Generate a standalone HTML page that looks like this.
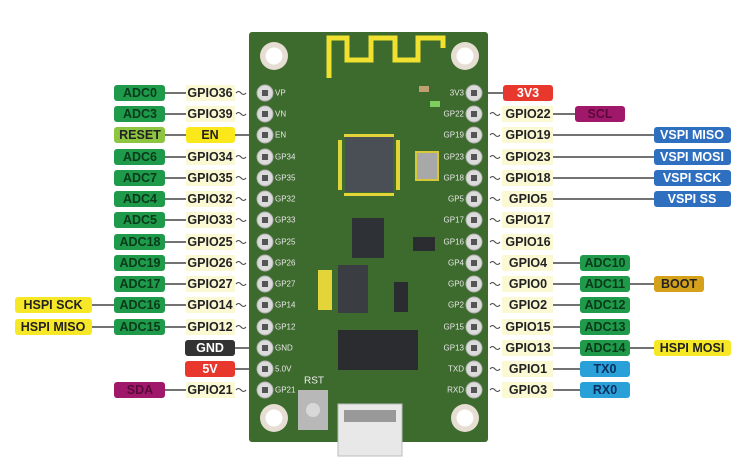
<!DOCTYPE html>
<html><head><meta charset="utf-8"><style>
html,body{margin:0;padding:0;background:#fff;width:744px;height:465px;overflow:hidden}
svg text{font-family:"Liberation Sans",sans-serif;font-weight:bold;font-size:12.5px;dominant-baseline:central;text-anchor:middle}
svg text.sl{font-size:8px;font-weight:normal;text-anchor:start;fill:#e8e8e8}
svg text.sr{font-size:8px;font-weight:normal;text-anchor:end;fill:#e8e8e8}
svg text.rst{font-size:10px;font-weight:normal;fill:#eee}
</style></head><body>
<svg width="744" height="465" viewBox="0 0 744 465" xmlns="http://www.w3.org/2000/svg">
<defs>
<g id="pin"><circle r="8" fill="#dcdcdc" stroke="#b0b0b0"/><rect x="-3" y="-3" width="6" height="6" fill="#555"/></g>
<g id="hole"><circle r="14" fill="#e6ddd3"/><circle r="8.5" fill="#fff"/></g>
</defs>
<rect x="249" y="32" width="239" height="410" rx="3" fill="#3d6a2d"/>
<path d="M329 78 V38 H347 V60 H371 V38 H395 V60 H418 V38 H443 V48" fill="none" stroke="#f0e030" stroke-width="5"/>
<use href="#hole" x="274" y="56"/><use href="#hole" x="465" y="56"/>
<use href="#hole" x="274" y="418"/><use href="#hole" x="465" y="418"/>
<rect x="345" y="137" width="48" height="55" fill="#4a4e55"/>
<rect x="344" y="134" width="50" height="3" fill="#e3d43a"/><rect x="344" y="193" width="50" height="3" fill="#e3d43a"/>
<rect x="338" y="140" width="4" height="50" fill="#e3d43a"/><rect x="396" y="140" width="4" height="50" fill="#e3d43a"/>
<rect x="416" y="152" width="22" height="28" fill="#a8a8a8" stroke="#d8c838" stroke-width="2"/>
<rect x="352" y="218" width="32" height="40" fill="#2e3136"/>
<rect x="338" y="265" width="30" height="48" fill="#3a3d42"/>
<rect x="338" y="330" width="80" height="40" fill="#2a2c30"/>
<rect x="394" y="282" width="14" height="30" fill="#2a2c30"/>
<rect x="413" y="237" width="22" height="14" fill="#2a2c30"/>
<rect x="318" y="270" width="14" height="40" fill="#e3d43a"/>
<rect x="419" y="86" width="10" height="6" fill="#c0a070"/><rect x="430" y="101" width="10" height="6" fill="#7fcf5f"/>
<text x="314" y="381" class="rst" style="text-anchor:middle">RST</text>
<rect x="298" y="390" width="30" height="40" fill="#b8b8b8"/><circle cx="313" cy="410" r="7" fill="#d8d8d8"/>
<rect x="338" y="404" width="64" height="52" fill="#e8e8e8" stroke="#bbb"/>
<rect x="344" y="410" width="52" height="12" fill="#999"/>
<text class="sl" x="275" y="93">VP</text><text class="sl" x="275" y="114">VN</text><text class="sl" x="275" y="135">EN</text>
<text class="sl" x="275" y="157">GP34</text><text class="sl" x="275" y="178">GP35</text><text class="sl" x="275" y="199">GP32</text>
<text class="sl" x="275" y="220">GP33</text><text class="sl" x="275" y="242">GP25</text><text class="sl" x="275" y="263">GP26</text>
<text class="sl" x="275" y="284">GP27</text><text class="sl" x="275" y="305">GP14</text><text class="sl" x="275" y="327">GP12</text>
<text class="sl" x="275" y="348">GND</text><text class="sl" x="275" y="369">5.0V</text><text class="sl" x="275" y="390">GP21</text>
<text class="sr" x="464" y="93">3V3</text><text class="sr" x="464" y="114">GP22</text><text class="sr" x="464" y="135">GP19</text>
<text class="sr" x="464" y="157">GP23</text><text class="sr" x="464" y="178">GP18</text><text class="sr" x="464" y="199">GP5</text>
<text class="sr" x="464" y="220">GP17</text><text class="sr" x="464" y="242">GP16</text><text class="sr" x="464" y="263">GP4</text>
<text class="sr" x="464" y="284">GP0</text><text class="sr" x="464" y="305">GP2</text><text class="sr" x="464" y="327">GP15</text>
<text class="sr" x="464" y="348">GP13</text><text class="sr" x="464" y="369">TXD</text><text class="sr" x="464" y="390">RXD</text>
<use href="#pin" x="265" y="93"/><use href="#pin" x="265" y="114"/><use href="#pin" x="265" y="135"/><use href="#pin" x="265" y="157"/><use href="#pin" x="265" y="178"/><use href="#pin" x="265" y="199"/><use href="#pin" x="265" y="220"/><use href="#pin" x="265" y="242"/><use href="#pin" x="265" y="263"/><use href="#pin" x="265" y="284"/><use href="#pin" x="265" y="305"/><use href="#pin" x="265" y="327"/><use href="#pin" x="265" y="348"/><use href="#pin" x="265" y="369"/><use href="#pin" x="265" y="390"/>
<use href="#pin" x="474" y="93"/><use href="#pin" x="474" y="114"/><use href="#pin" x="474" y="135"/><use href="#pin" x="474" y="157"/><use href="#pin" x="474" y="178"/><use href="#pin" x="474" y="199"/><use href="#pin" x="474" y="220"/><use href="#pin" x="474" y="242"/><use href="#pin" x="474" y="263"/><use href="#pin" x="474" y="284"/><use href="#pin" x="474" y="305"/><use href="#pin" x="474" y="327"/><use href="#pin" x="474" y="348"/><use href="#pin" x="474" y="369"/><use href="#pin" x="474" y="390"/>
<g stroke="#444" stroke-width="1.5">
<line x1="165" y1="93" x2="186" y2="93"/><line x1="165" y1="114" x2="186" y2="114"/><line x1="165" y1="135" x2="186" y2="135"/><line x1="235" y1="135" x2="249" y2="135"/>
<line x1="165" y1="157" x2="186" y2="157"/><line x1="165" y1="178" x2="186" y2="178"/><line x1="165" y1="199" x2="186" y2="199"/><line x1="165" y1="220" x2="186" y2="220"/><line x1="165" y1="242" x2="186" y2="242"/><line x1="165" y1="263" x2="186" y2="263"/><line x1="165" y1="284" x2="186" y2="284"/>
<line x1="92" y1="305" x2="186" y2="305"/><line x1="92" y1="327" x2="186" y2="327"/>
<line x1="235" y1="348" x2="249" y2="348"/><line x1="235" y1="369" x2="249" y2="369"/><line x1="165" y1="390" x2="186" y2="390"/>
<line x1="488" y1="93" x2="503" y2="93"/>
<line x1="553" y1="114" x2="575" y2="114"/>
<line x1="553" y1="135" x2="654" y2="135"/><line x1="553" y1="157" x2="654" y2="157"/><line x1="553" y1="178" x2="654" y2="178"/><line x1="553" y1="199" x2="654" y2="199"/>
<line x1="553" y1="263" x2="580" y2="263"/><line x1="553" y1="284" x2="654" y2="284"/><line x1="553" y1="305" x2="580" y2="305"/><line x1="553" y1="327" x2="580" y2="327"/><line x1="553" y1="348" x2="654" y2="348"/><line x1="553" y1="369" x2="580" y2="369"/><line x1="553" y1="390" x2="580" y2="390"/>
</g>
<g fill="none" stroke="#444" stroke-width="1">
<path d="M236 93 q2.5 -3 5 0 t5 0 M236 114 q2.5 -3 5 0 t5 0 M236 157 q2.5 -3 5 0 t5 0 M236 178 q2.5 -3 5 0 t5 0 M236 199 q2.5 -3 5 0 t5 0 M236 220 q2.5 -3 5 0 t5 0 M236 242 q2.5 -3 5 0 t5 0 M236 263 q2.5 -3 5 0 t5 0 M236 284 q2.5 -3 5 0 t5 0 M236 305 q2.5 -3 5 0 t5 0 M236 327 q2.5 -3 5 0 t5 0 M236 390 q2.5 -3 5 0 t5 0"/>
<path d="M490 114 q2.5 -3 5 0 t5 0 M490 135 q2.5 -3 5 0 t5 0 M490 157 q2.5 -3 5 0 t5 0 M490 178 q2.5 -3 5 0 t5 0 M490 199 q2.5 -3 5 0 t5 0 M490 220 q2.5 -3 5 0 t5 0 M490 242 q2.5 -3 5 0 t5 0 M490 263 q2.5 -3 5 0 t5 0 M490 284 q2.5 -3 5 0 t5 0 M490 305 q2.5 -3 5 0 t5 0 M490 327 q2.5 -3 5 0 t5 0 M490 348 q2.5 -3 5 0 t5 0 M490 369 q2.5 -3 5 0 t5 0 M490 390 q2.5 -3 5 0 t5 0"/>
</g>
<g fill="#1e9a4a"><rect x="114" y="85" width="51" height="16" rx="3"/><rect x="114" y="106" width="51" height="16" rx="3"/><rect x="114" y="149" width="51" height="16" rx="3"/><rect x="114" y="170" width="51" height="16" rx="3"/><rect x="114" y="191" width="51" height="16" rx="3"/><rect x="114" y="212" width="51" height="16" rx="3"/><rect x="114" y="234" width="51" height="16" rx="3"/><rect x="114" y="255" width="51" height="16" rx="3"/><rect x="114" y="276" width="51" height="16" rx="3"/><rect x="114" y="297" width="51" height="16" rx="3"/><rect x="114" y="319" width="51" height="16" rx="3"/></g>
<rect x="114" y="127" width="51" height="16" rx="3" fill="#8dc540"/>
<rect x="114" y="382" width="51" height="16" rx="3" fill="#a0186a"/>
<rect x="15" y="297" width="77" height="16" rx="3" fill="#f7e827"/><rect x="15" y="319" width="77" height="16" rx="3" fill="#f7e827"/>
<g fill="#fbf8d4"><rect x="186" y="85" width="49" height="16"/><rect x="186" y="106" width="49" height="16"/><rect x="186" y="149" width="49" height="16"/><rect x="186" y="170" width="49" height="16"/><rect x="186" y="191" width="49" height="16"/><rect x="186" y="212" width="49" height="16"/><rect x="186" y="234" width="49" height="16"/><rect x="186" y="255" width="49" height="16"/><rect x="186" y="276" width="49" height="16"/><rect x="186" y="297" width="49" height="16"/><rect x="186" y="319" width="49" height="16"/><rect x="186" y="382" width="49" height="16"/></g>
<rect x="186" y="127" width="49" height="16" rx="3" fill="#fbe81a"/>
<rect x="185" y="340" width="50" height="16" rx="3" fill="#333"/>
<rect x="185" y="361" width="50" height="16" rx="3" fill="#e8382e"/>
<g fill="#0a3a1a">
<text x="140" y="93">ADC0</text><text x="140" y="114">ADC3</text><text x="140" y="157">ADC6</text><text x="140" y="178">ADC7</text><text x="140" y="199">ADC4</text><text x="140" y="220">ADC5</text><text x="140" y="242">ADC18</text><text x="140" y="263">ADC19</text><text x="140" y="284">ADC17</text><text x="140" y="305">ADC16</text><text x="140" y="327">ADC15</text>
</g>
<text x="140" y="135" fill="#222">RESET</text>
<text x="140" y="390" fill="#5a0a3a">SDA</text>
<text x="53" y="305" fill="#222">HSPI SCK</text><text x="53" y="327" fill="#222">HSPI MISO</text>
<g fill="#222">
<text x="210" y="93">GPIO36</text><text x="210" y="114">GPIO39</text><text x="210" y="135">EN</text><text x="210" y="157">GPIO34</text><text x="210" y="178">GPIO35</text><text x="210" y="199">GPIO32</text><text x="210" y="220">GPIO33</text><text x="210" y="242">GPIO25</text><text x="210" y="263">GPIO26</text><text x="210" y="284">GPIO27</text><text x="210" y="305">GPIO14</text><text x="210" y="327">GPIO12</text><text x="210" y="390">GPIO21</text>
</g>
<text x="210" y="348" fill="#fff">GND</text><text x="210" y="369" fill="#fff">5V</text>
<rect x="503" y="85" width="50" height="16" rx="3" fill="#e8382e"/>
<rect x="575" y="106" width="50" height="16" rx="3" fill="#a0186a"/>
<g fill="#fbf8d4"><rect x="502" y="106" width="51" height="16"/><rect x="502" y="127" width="51" height="16"/><rect x="502" y="149" width="51" height="16"/><rect x="502" y="170" width="51" height="16"/><rect x="502" y="191" width="51" height="16"/><rect x="502" y="212" width="51" height="16"/><rect x="502" y="234" width="51" height="16"/><rect x="502" y="255" width="51" height="16"/><rect x="502" y="276" width="51" height="16"/><rect x="502" y="297" width="51" height="16"/><rect x="502" y="319" width="51" height="16"/><rect x="502" y="340" width="51" height="16"/><rect x="502" y="361" width="51" height="16"/><rect x="502" y="382" width="51" height="16"/></g>
<g fill="#2f6fc0"><rect x="654" y="127" width="77" height="16" rx="3"/><rect x="654" y="149" width="77" height="16" rx="3"/><rect x="654" y="170" width="77" height="16" rx="3"/><rect x="654" y="191" width="77" height="16" rx="3"/></g>
<g fill="#1e9a4a"><rect x="580" y="255" width="50" height="16" rx="3"/><rect x="580" y="276" width="50" height="16" rx="3"/><rect x="580" y="297" width="50" height="16" rx="3"/><rect x="580" y="319" width="50" height="16" rx="3"/><rect x="580" y="340" width="50" height="16" rx="3"/></g>
<g fill="#2aa0d8"><rect x="580" y="361" width="50" height="16" rx="3"/><rect x="580" y="382" width="50" height="16" rx="3"/></g>
<rect x="654" y="276" width="50" height="16" rx="3" fill="#d6a11a"/>
<rect x="654" y="340" width="77" height="16" rx="3" fill="#f7e827"/>
<text x="528" y="93" fill="#fff">3V3</text><text x="600" y="114" fill="#5a0a3a">SCL</text>
<g fill="#222">
<text x="528" y="114">GPIO22</text><text x="528" y="135">GPIO19</text><text x="528" y="157">GPIO23</text><text x="528" y="178">GPIO18</text><text x="528" y="199">GPIO5</text><text x="528" y="220">GPIO17</text><text x="528" y="242">GPIO16</text><text x="528" y="263">GPIO4</text><text x="528" y="284">GPIO0</text><text x="528" y="305">GPIO2</text><text x="528" y="327">GPIO15</text><text x="528" y="348">GPIO13</text><text x="528" y="369">GPIO1</text><text x="528" y="390">GPIO3</text>
<text x="679" y="284">BOOT</text><text x="692" y="348">HSPI MOSI</text>
</g>
<g fill="#fff"><text x="692" y="135">VSPI MISO</text><text x="692" y="157">VSPI MOSI</text><text x="692" y="178">VSPI SCK</text><text x="692" y="199">VSPI SS</text></g>
<g fill="#0a3a1a"><text x="605" y="263">ADC10</text><text x="605" y="284">ADC11</text><text x="605" y="305">ADC12</text><text x="605" y="327">ADC13</text><text x="605" y="348">ADC14</text></g>
<g fill="#0a3060"><text x="605" y="369">TX0</text><text x="605" y="390">RX0</text></g>
</svg>
</body></html>
